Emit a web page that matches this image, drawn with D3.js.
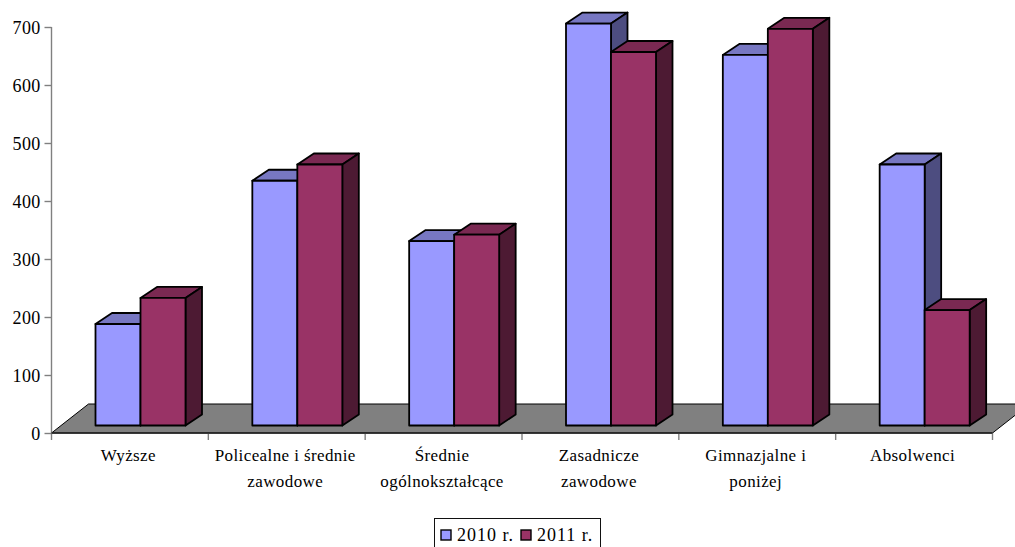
<!DOCTYPE html>
<html><head><meta charset="utf-8">
<script src="https://cdnjs.cloudflare.com/ajax/libs/d3/7.8.5/d3.min.js"></script>
<style>html,body{margin:0;padding:0;background:#fff;overflow:hidden}svg{display:block}
text{font-family:"Liberation Serif",serif;fill:#000;font-size:17px;letter-spacing:.4px}
.yt text{font-size:18px;letter-spacing:.3px}</style>
</head><body><svg id="c" width="1015" height="547"></svg>
<script>
const categories=[["Wyższe"],["Policealne i średnie","zawodowe"],["Średnie","ogólnokształcące"],["Zasadnicze","zawodowe"],["Gimnazjalne i","poniżej"],["Absolwenci"]];
const series2010=[175,422,318,693,639,450];
const series2011=[220,450,329,644,684,199];
const seriesNames=["2010 r.","2011 r."];
const yTicks=[0,100,200,300,400,500,600,700];
const colors=[{front:"#9999FF",top:"#7777C2",side:"#4D4D80"},{front:"#993366",top:"#7A2952",side:"#4D1A33"}];

const svg=d3.select("#c");
const plot={left:51.5,right:992.5,zero:433,top:27};
const y=d3.scaleLinear().domain([0,700]).range([plot.zero,plot.top]);
const x=d3.scaleBand().domain(d3.range(categories.length)).range([plot.left,plot.right]);
const inner=d3.scaleBand().domain([0,1]).range([0,90]);
const floorD={dx:37,dy:-29};
const barOff={dx:44,dy:-7.5};
const depth={dx:16.5,dy:-11};

// floor
svg.append("path").attr("d",d3.line()([[plot.left,plot.zero],[plot.left+floorD.dx,plot.zero+floorD.dy],[plot.right+floorD.dx,plot.zero+floorD.dy],[plot.right,plot.zero]])+"Z")
  .attr("fill","#808080").attr("stroke","#000").attr("stroke-width",1);

// axes
const gy=svg.append("g").attr("class","yt").attr("transform",`translate(${plot.left},0)`).call(d3.axisLeft(y).tickValues(yTicks).tickSize(7).tickPadding(4).tickFormat(d3.format("d")));
gy.selectAll("path,line").attr("stroke","#808080").attr("stroke-width",1.4);
gy.selectAll("text").attr("dy","0.34em");
gy.select("path").attr("d",`M0,${plot.top}V${plot.zero}`);
gy.attr("font-size",null).attr("font-family",null);

const xt=x.domain().map(i=>x(i)).concat([plot.right]);
svg.append("g").selectAll("line").data(xt).join("line")
  .attr("x1",d=>d).attr("x2",d=>d).attr("y1",plot.zero).attr("y2",plot.zero+7)
  .attr("stroke","#808080").attr("stroke-width",1.4);
svg.append("line").attr("x1",plot.left).attr("x2",plot.right).attr("y1",plot.zero).attr("y2",plot.zero).attr("stroke","#222").attr("stroke-width",1.4);

// bars
const line=d3.line();
categories.forEach((c,i)=>{
  [series2010,series2011].forEach((vals,s)=>{
    const g=svg.append("g").attr("stroke","#000").attr("stroke-width",1.8).attr("stroke-linejoin","round");
    const x0=x(i)+barOff.dx+inner(s), x1=x0+inner.bandwidth();
    const yb=y(0)+barOff.dy, yt=y(vals[i])+barOff.dy;
    g.append("path").attr("fill",colors[s].top).attr("d",line([[x0,yt],[x0+depth.dx,yt+depth.dy],[x1+depth.dx,yt+depth.dy],[x1,yt]])+"Z");
    g.append("path").attr("fill",colors[s].side).attr("d",line([[x1,yt],[x1+depth.dx,yt+depth.dy],[x1+depth.dx,yb+depth.dy],[x1,yb]])+"Z");
    g.append("rect").attr("fill",colors[s].front).attr("x",x0).attr("y",yt).attr("width",x1-x0).attr("height",yb-yt);
  });
  const t=svg.append("text").attr("text-anchor","middle").attr("y",460.5);
  c.forEach((l,k)=>t.append("tspan").attr("x",x(i)+x.bandwidth()/2-1.5).attr("dy",k?26:0).text(l));
});

// legend
const lg=svg.append("g");
lg.append("rect").attr("x",434.5).attr("y",518.5).attr("width",166).attr("height",40).attr("fill","#fff").attr("stroke","#111").attr("stroke-width",1);
[441,521].forEach((lx,i)=>{
  lg.append("rect").attr("x",lx).attr("y",530).attr("width",10).attr("height",10).attr("fill",colors[i].front).attr("stroke","#000").attr("stroke-width",1.4);
  lg.append("text").attr("x",lx+16).attr("y",541).style("font-size","18px").style("letter-spacing","1px").text(seriesNames[i]);
});
</script></body></html>
